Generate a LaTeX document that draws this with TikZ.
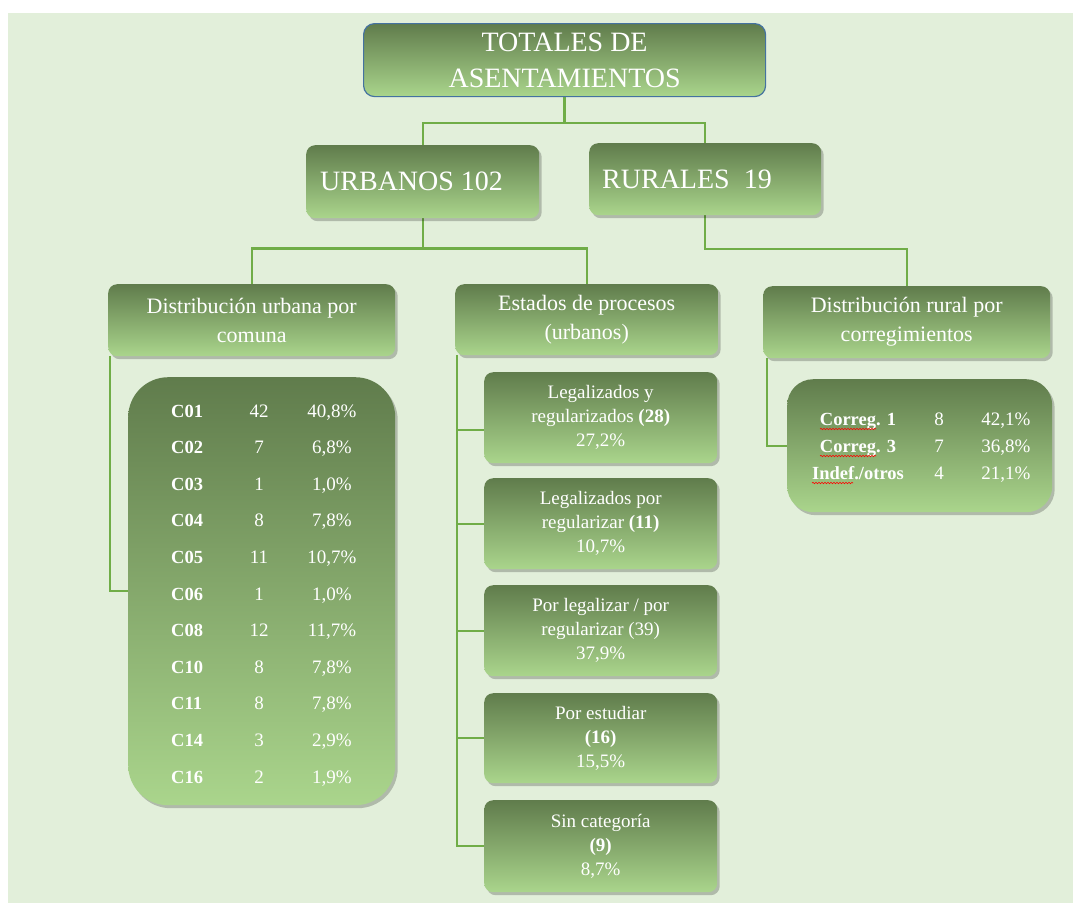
\documentclass[tikz,border=0pt]{standalone}
\usepackage{fontspec}
\setmainfont{Liberation Serif}
\usetikzlibrary{shadows,calc,decorations.pathmorphing}
\definecolor{bg}{RGB}{226,239,218}
\definecolor{gtop}{RGB}{96,124,76}
\definecolor{gbot}{RGB}{170,213,140}
\definecolor{lg}{RGB}{112,173,71}
\definecolor{tb}{RGB}{68,114,160}
\pgfdeclarelayer{back}
\pgfsetlayers{back,main}
\begin{document}
\begin{tikzpicture}[x=1pt,y=-1pt,
  gbase/.style={shading=axis, top color=gtop, bottom color=gbot, draw=none,
    rounded corners=9pt, text=white, align=center, inner sep=0pt, anchor=north west},
  gbox/.style={gbase,
    drop shadow={shadow xshift=2.5pt, shadow yshift=-3pt, opacity=0.22, fill=black}},
  lvl/.style={gbox, minimum width=287pt, minimum height=72pt, font=\fontsize{22}{29}\selectfont},
  sub/.style={gbox, minimum width=233pt, minimum height=91pt, font=\fontsize{19}{24}\selectfont},
  tbl/.style={gbox},
  link/.style={draw=lg, line width=2.4pt},
  lab/.style={text=white, inner sep=0pt, anchor=base, font=\fontsize{18.5}{22}\selectfont\bfseries},
  val/.style={text=white, inner sep=0pt, anchor=base, font=\fontsize{19}{22}\selectfont},
  spell/.style={draw=red, line width=0.6pt, decorate, decoration={snake, amplitude=0.7pt, segment length=3pt}}
]
\useasboundingbox (0,0) rectangle (1073,903);
\begin{pgfonlayer}{back}
\fill[white] (0,0) rectangle (1073,903);
\fill[bg] (8,13) rectangle (1073,903);
\end{pgfonlayer}

% top
\node[gbase, draw=tb, line width=1.2pt, rounded corners=11pt,
  minimum width=402pt, minimum height=73pt, font=\fontsize{28}{36}\selectfont]
  (top) at (363,23) {TOTALES DE\\ASENTAMIENTOS};

% level 2
\node[gbox, minimum width=233pt, minimum height=73pt, font=\fontsize{28}{34}\selectfont]
  (urb) at (306,145) {\makebox[205pt][l]{URBANOS 102}};
\node[gbox, minimum width=232pt, minimum height=72pt, font=\fontsize{28}{34}\selectfont]
  (rur) at (589,143) {\makebox[206pt][l]{RURALES\ \ 19}};

% level 3
\node[lvl] (du) at (108,284) {Distribución urbana por\\comuna};
\node[lvl, minimum width=263pt, minimum height=71pt] (est) at (455,284) {Estados de procesos\\(urbanos)};
\node[lvl] (dr) at (763,286) {Distribución rural por\\corregimientos};

% urban table
\node[tbl, rounded corners=40pt, minimum width=267pt, minimum height=428pt] (tu) at (128,377) {};
\foreach \c/\n/\p [count=\i] in {C01/42/{40,8\%},C02/7/{6,8\%},C03/1/{1,0\%},C04/8/{7,8\%},
  C05/11/{10,7\%},C06/1/{1,0\%},C08/12/{11,7\%},C10/8/{7,8\%},C11/8/{7,8\%},C14/3/{2,9\%},C16/2/{1,9\%}}{
  \node[lab, anchor=base west] (uc\i) at (171,{417+36.6*(\i-1)}) {\c};
  \node[val] (un\i) at (259,{417+36.6*(\i-1)}) {\n};
  \node[val] (up\i) at (332,{417+36.6*(\i-1)}) {\p};
}

% rural table
\node[tbl, rounded corners=26pt, minimum width=265pt, minimum height=133pt] (tr) at (787,379) {};
\foreach \c/\n/\p [count=\i] in {{Correg. 1}/8/{42,1\%},{Correg. 3}/7/{36,8\%},{Indef./otros}/4/{21,1\%}}{
  \node[lab] (rc\i) at (858,{425+27*(\i-1)}) {\c};
  \node[val] (rn\i) at (939,{425+27*(\i-1)}) {\n};
  \node[val] (rp\i) at (1006,{425+27*(\i-1)}) {\p};
}
\draw[spell] (820,429) -- (876,429);
\draw[spell] (820,456) -- (876,456);
\draw[spell] (812,483) -- (853,483);

% state boxes
\node[sub] (s1) at (484,372) {Legalizados y\\regularizados \textbf{(28)}\\27,2\%};
\node[sub] (s2) at (484,478) {Legalizados por\\regularizar \textbf{(11)}\\10,7\%};
\node[sub] (s3) at (484,585) {Por legalizar / por\\regularizar (39)\\37,9\%};
\node[sub, minimum height=90pt] (s4) at (484,693) {Por estudiar\\\textbf{(16)}\\15,5\%};
\node[sub, minimum height=92pt] (s5) at (484,800) {Sin categoría\\\textbf{(9)}\\8,7\%};

% connectors (behind boxes)
\begin{pgfonlayer}{back}
\draw[link] (top.south) -- ++(0,26) coordinate (j1);
\draw[link] (urb.north) |- (j1) -| (rur.north);
\draw[link] (urb.south) -- ++(0,30) coordinate (j2);
\draw[link] (du.north) |- (j2) -| (est.north);
\draw[link] (rur.south) |- ([yshift=37pt]dr.north) -- (dr.north);
\draw[link] ([xshift=2pt]du.south west) |- (tu.west);
\draw[link] ([xshift=4pt]dr.south west) |- (tr.west);
\coordinate (sp) at ([xshift=2pt]est.south west);
\draw[link] (sp) |- (s5.west);
\draw[link] ([yshift=-12pt]s1.west) -- ([yshift=-12pt]s1.west -| sp);
\foreach \i in {2,3,4}{\draw[link] (s\i.west) -- (s\i.west -| sp);}
\end{pgfonlayer}
\end{tikzpicture}
\end{document}
